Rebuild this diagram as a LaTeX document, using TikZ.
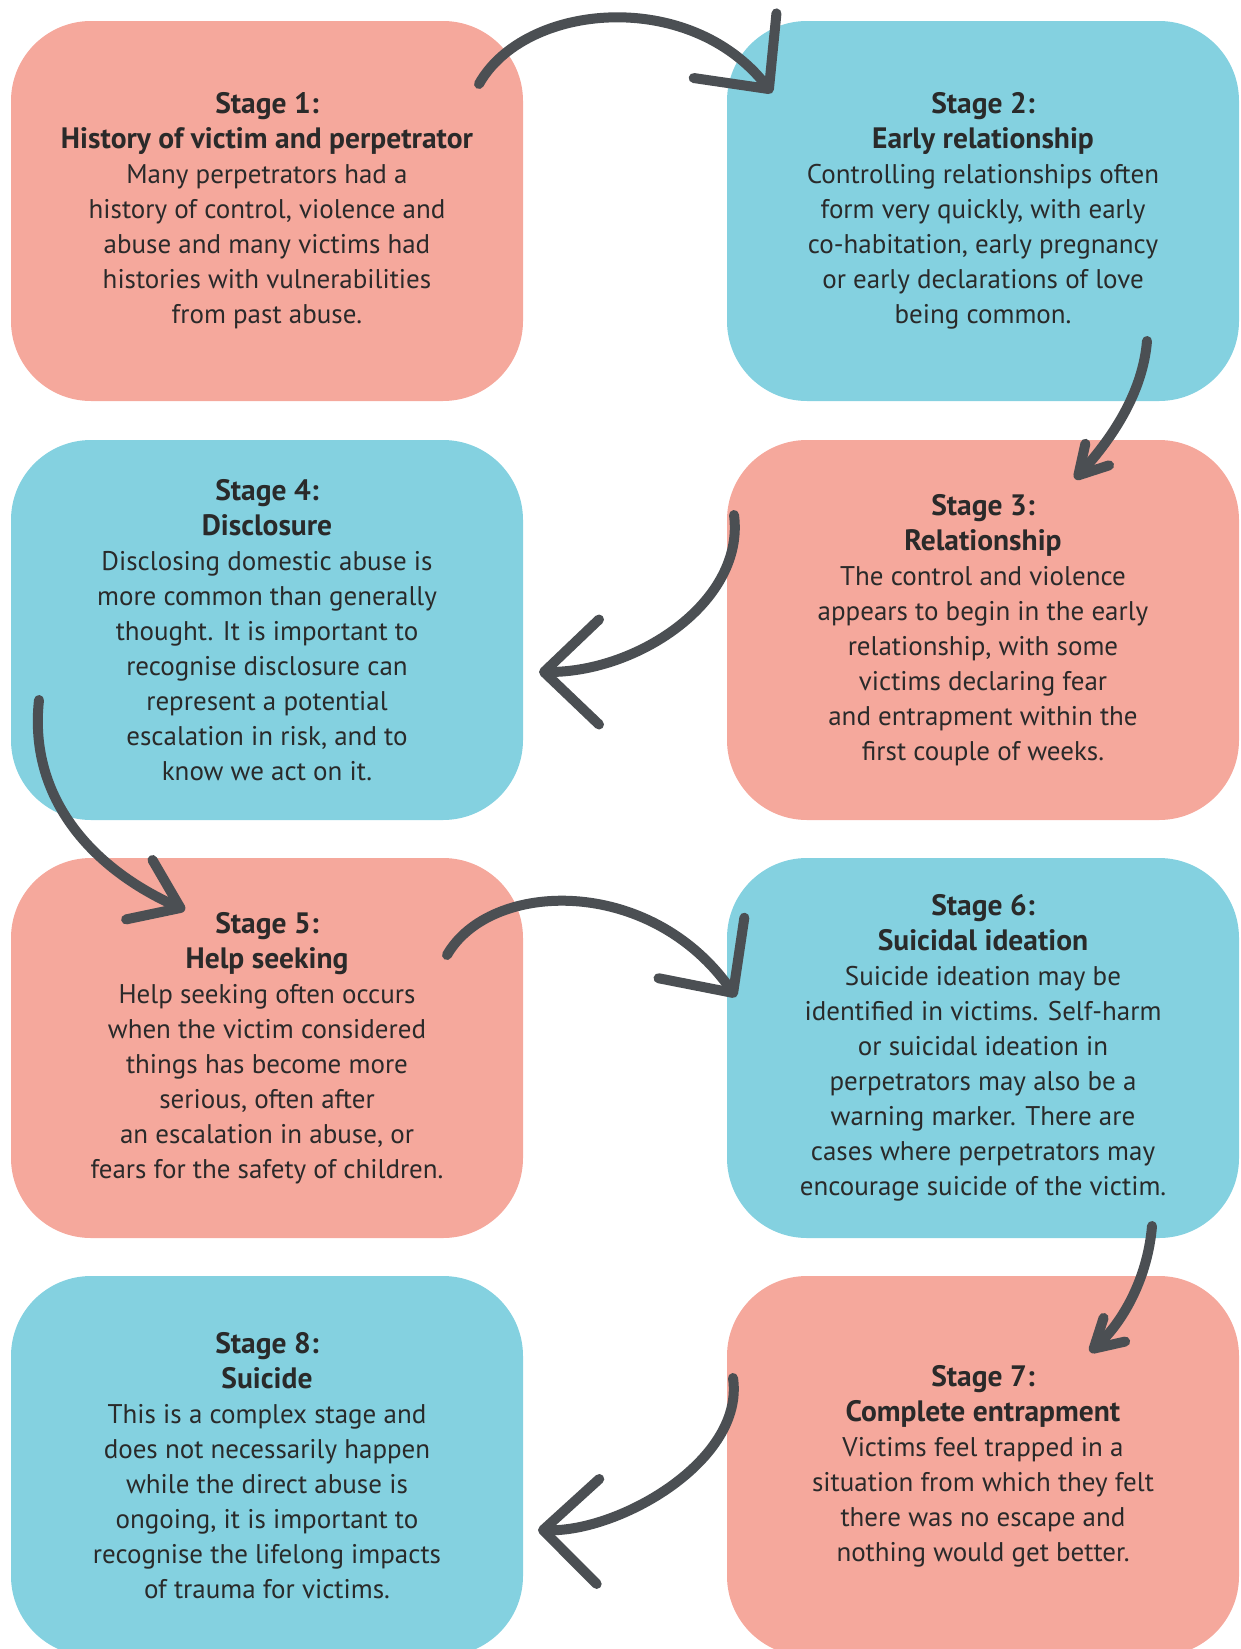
\documentclass[tikz,border=0pt]{standalone}
\usepackage{fontspec}
\setmainfont{PT Sans}
\usetikzlibrary{arrows.meta}

\definecolor{pinkfill}{RGB}{245,168,156}
\definecolor{bluefill}{RGB}{132,209,224}
\definecolor{arrowgray}{RGB}{75,79,83}
\definecolor{textdark}{RGB}{42,42,42}

% bold heading lines of a stage box
\newcommand{\sthead}[1]{{\fontsize{29.5}{35}\selectfont\bfseries #1}}

\tikzset{
	stage/.style={rounded corners=80pt, minimum width=512pt, minimum height=380pt,
		inner sep=0pt, align=center, text=textdark,
		font=\fontsize{27}{35}\selectfont},
	pinkstage/.style={stage, fill=pinkfill},
	bluestage/.style={stage, fill=bluefill},
	flow/.style={draw=arrowgray, line width=10pt, line cap=round},
	bighead/.style={flow, -{Straight Barb[length=55pt, width=105pt, round]}},
	smallhead/.style={flow, -{Straight Barb[length=28pt, width=32pt, round]}},
}

\begin{document}
\begin{tikzpicture}[x=1pt, y=-1pt]
	\useasboundingbox (0,0) rectangle (1241,1649);
	\clip (0,0) rectangle (1241,1649);

	% stage boxes, left and right column
	\node[pinkstage] (s1) at (267,211) {\sthead{Stage 1:}\\\sthead{History of victim and perpetrator}\\Many perpetrators had a\\history of control, violence and\\abuse and many victims had\\histories with vulnerabilities\\from past abuse.};
	\node[bluestage] (s2) at (983,211) {\sthead{Stage 2:}\\\sthead{Early relationship}\\Controlling relationships often\\form very quickly, with early\\co-habitation, early pregnancy\\or early declarations of love\\being common.};
	\node[pinkstage] (s3) at (983,630) {\sthead{Stage 3:}\\\sthead{Relationship}\\The control and violence\\appears to begin in the early\\relationship, with some\\victims declaring fear\\and entrapment within the\\first couple of weeks.};
	\node[bluestage] (s4) at (267,630) {\sthead{Stage 4:}\\\sthead{Disclosure}\\Disclosing domestic abuse is\\more common than generally\\thought. It is important to\\recognise disclosure can\\represent a potential\\escalation in risk, and to\\know we act on it.};
	\node[pinkstage] (s5) at (267,1048) {\sthead{Stage 5:}\\\sthead{Help seeking}\\Help seeking often occurs\\when the victim considered\\things has become more\\serious, often after\\an escalation in abuse, or\\fears for the safety of children.};
	\node[bluestage] (s6) at (983,1048) {\sthead{Stage 6:}\\\sthead{Suicidal ideation}\\Suicide ideation may be\\identified in victims. Self-harm\\or suicidal ideation in\\perpetrators may also be a\\warning marker. There are\\cases where perpetrators may\\encourage suicide of the victim.};
	\node[pinkstage] (s7) at (983,1466) {\sthead{Stage 7:}\\\sthead{Complete entrapment}\\Victims feel trapped in a\\situation from which they felt\\there was no escape and\\nothing would get better.};
	\node[bluestage] (s8) at (267,1466) {\sthead{Stage 8:}\\\sthead{Suicide}\\This is a complex stage and\\does not necessarily happen\\while the direct abuse is\\ongoing, it is important to\\recognise the lifelong impacts\\of trauma for victims.};

	% arrow ends
	\coordinate (s1out) at (479,84);   \coordinate (s2in) at (772,93);
	\coordinate (s2out) at (1147,341); \coordinate (s3in) at (1075,479);
	\coordinate (s3out) at (734,515);  \coordinate (s4in) at (539,672);
	\coordinate (s4out) at (39,700);   \coordinate (s5in) at (185,910);
	\coordinate (s5out) at (447,955);  \coordinate (s6in) at (736,997);
	\coordinate (s6out) at (1152,1226);\coordinate (s7in) at (1090,1352);
	\coordinate (s7out) at (733,1378); \coordinate (s8in) at (538,1530);

	% curved arrows
	\draw[bighead] (s1out) .. controls (525,2) and (690,-12) .. (s2in);
	\draw[smallhead] (s2out) .. controls (1143,390) and (1115,435) .. (s3in);
	\draw[bighead] (s3out) .. controls (745,600) and (640,672) .. (s4in);
	\draw[flow, -{Straight Barb[length=45pt, width=65pt, round]}] (s4out) .. controls (28,800) and (95,870) .. (s5in);
	\draw[bighead] (s5out) .. controls (490,880) and (650,875) .. (s6in);
	\draw[smallhead] (s6out) .. controls (1148,1275) and (1125,1320) .. (s7in);
	\draw[bighead] (s7out) .. controls (745,1460) and (620,1532) .. (s8in);
\end{tikzpicture}
\end{document}
